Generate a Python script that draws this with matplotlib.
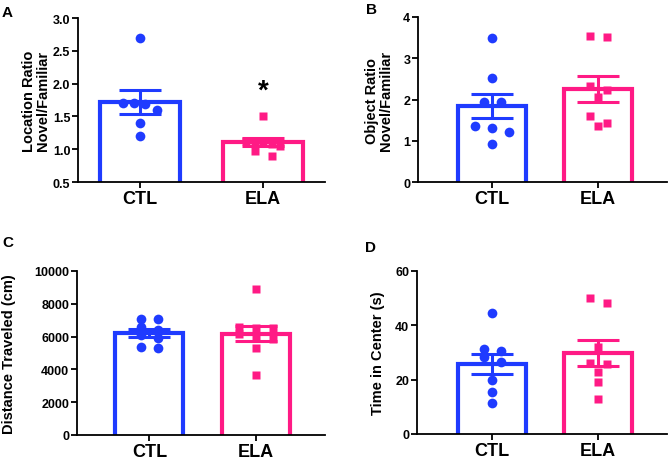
import numpy as np
import matplotlib
matplotlib.use("Agg")
import matplotlib.pyplot as plt

plt.rcParams['font.family'] = ['Liberation Sans', 'DejaVu Sans']
plt.rcParams['font.weight'] = 'bold'

groups = ['CTL', 'ELA']
blue = '#1F3BFF'
pink = '#FF1A85'

# panel A - location ratio
loc_ctl = [2.7, 1.71, 1.71, 1.69, 1.6, 1.4, 1.2]
loc_ela = [1.5, 1.13, 1.12, 1.1, 1.08, 1.05, 0.98, 0.9]

# panel B - object ratio
obj_ctl = [3.49, 2.52, 1.93, 1.95, 1.36, 1.31, 1.22, 0.92]
obj_ela = [3.51, 3.55, 2.32, 2.22, 2.05, 1.59, 1.43, 1.35]

# panel C - distance traveled
dist_ctl = [7059, 7099, 6410, 6613, 6085, 5943, 5294, 5396]
dist_ela = [8884, 6552, 6511, 6613, 6146, 6045, 5842, 5294, 3671]

# panel D - time in center
time_ctl = [44.4, 30.4, 31.2, 28.2, 26.6, 20.0, 15.3, 11.4]
time_ela = [50.2, 48.4, 32.2, 26.3, 25.7, 22.9, 19.0, 12.9]


def swarm(ax, vals, xc, diam, step, max_w=34):
    # group points into rows by screen height, spread each row symmetrically
    px_x = ax.transData.transform((1, 0))[0] - ax.transData.transform((0, 0))[0]
    ys = np.array([ax.transData.transform((0, v))[1] for v in vals])
    order = np.argsort(-ys)
    rows = []
    for i in order:
        if rows and ys[rows[-1][0]] - ys[i] < diam:
            rows[-1].append(i)
        else:
            rows.append([i])
    xs = np.zeros(len(vals))
    for row in rows:
        n = len(row)
        st = step if n < 2 else min(step, max_w / (n - 1))
        for k, i in enumerate(row):
            xs[i] = xc + (k - (n - 1) / 2) * st / px_x
    return xs


def panel(rect, ctl, ela, ylim, yticks, fmt, ylabel, letter, letter_xy,
          xlim, width, ylab_x):
    ax = fig.add_axes(rect)
    ax.set_xlim(*xlim)
    ax.set_ylim(*ylim)
    for s in ['top', 'right']:
        ax.spines[s].set_visible(False)
    for s in ['left', 'bottom']:
        ax.spines[s].set_linewidth(1.3)
        ax.spines[s].set_zorder(5)
    for i, (vals, col, mk) in enumerate([(ctl, blue, 'o'), (ela, pink, 's')]):
        vals = np.array(vals, dtype=float)
        m = vals.mean()
        sem = vals.std(ddof=1) / np.sqrt(len(vals))
        ax.plot([i - width / 2, i - width / 2, i + width / 2, i + width / 2],
                [ylim[0], m, m, ylim[0]], color=col, lw=3.0,
                solid_joinstyle='miter', zorder=2)
        xs = swarm(ax, vals, i, 7.5, 17)
        ax.plot(xs, vals, mk, color=col, ms=7 if mk == 'o' else 6,
                mec='none', zorder=3)
        ax.errorbar(i, m, yerr=sem, color=col, capsize=15, elinewidth=2.2,
                    capthick=2.2, zorder=4)
    ax.set_xticks([0, 1])
    ax.set_xticklabels(groups, fontsize=13, fontweight='bold')
    ax.set_yticks(yticks)
    ax.set_yticklabels([fmt.format(t) for t in yticks], fontsize=9,
                       fontweight='bold')
    ax.tick_params(axis='both', width=1.3, length=4, direction='out')
    ax.tick_params(axis='y', pad=1.5)
    ax.tick_params(axis='x', pad=1.8)
    ax.set_ylabel(ylabel, fontsize=10.5, fontweight='bold', linespacing=1.0)
    ax.yaxis.set_label_coords(ylab_x, 0.5)
    fig.text(letter_xy[0], letter_xy[1], letter, fontsize=11,
             fontweight='bold', va='top', ha='left')
    return ax


fig = plt.figure(figsize=(6.7, 4.6), dpi=100)

axA = panel([78 / 670, 1 - 183 / 460, 247 / 670, 164 / 460], loc_ctl, loc_ela,
            (0.5, 3.0), [0.5, 1.0, 1.5, 2.0, 2.5, 3.0], '{:.1f}',
            'Location Ratio\nNovel/Familiar', 'A', (2 / 670, 1 - 6 / 460),
            (-0.5, 1.5), 0.65, -0.113)
axA.text(1, 1.9, '*', fontsize=20, fontweight='bold', ha='center',
         va='center')

panel([418 / 670, 1 - 183 / 460, 249 / 670, 165 / 460], obj_ctl, obj_ela,
      (0, 4), [0, 1, 2, 3, 4], '{:d}',
      'Object Ratio\nNovel/Familiar', 'B', (366 / 670, 1 - 3 / 460),
      (-0.70, 1.65), 0.64, -0.10)

panel([77 / 670, 1 - 436 / 460, 248 / 670, 164 / 460], dist_ctl, dist_ela,
      (0, 10000), [0, 2000, 4000, 6000, 8000, 10000], '{:d}',
      'Distance Traveled (cm)', 'C', (2 / 670, 1 - 236 / 460),
      (-0.68, 1.65), 0.64, -0.245)

panel([417 / 670, 1 - 435 / 460, 250 / 670, 163 / 460], time_ctl, time_ela,
      (0, 60), [0, 20, 40, 60], '{:d}',
      'Time in Center (s)', 'D', (365 / 670, 1 - 241 / 460),
      (-0.71, 1.65), 0.64, -0.128)

fig.savefig('out.png', dpi=100)
